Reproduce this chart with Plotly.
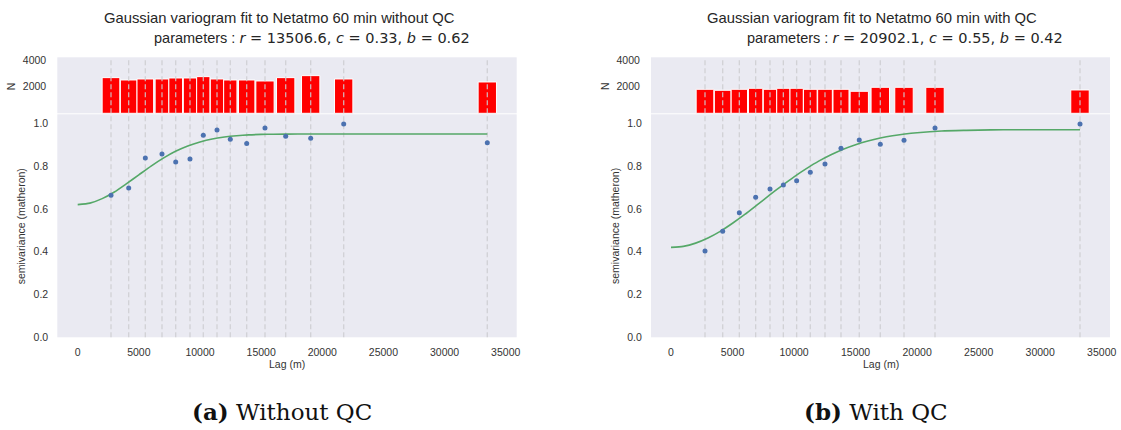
import plotly.graph_objects as go

W, H = 1121, 430

# ---------------- data ----------------
lags_a = [2723, 4170, 5530, 6893, 8014, 9183, 10271, 11391, 12479, 13820, 15316, 17009, 19053, 21752, 33495]
semi_a = [0.664, 0.698, 0.838, 0.857, 0.819, 0.833, 0.944, 0.969, 0.925, 0.905, 0.978, 0.939, 0.930, 0.997, 0.909]
count_a = [2675, 2500, 2575, 2575, 2650, 2650, 2750, 2575, 2500, 2500, 2425, 2675, 2825, 2575, 2350]
fit_x_a = [0, 1000, 2000, 3000, 4000, 5000, 6000, 7000, 8000, 9000, 10000, 11000, 12000,
           13000, 14000, 15000, 16000, 18000, 20000, 25000, 30000, 33495]
fit_y_a = [0.620, 0.627, 0.648, 0.679, 0.718, 0.759, 0.800, 0.837, 0.869, 0.894, 0.913, 0.927,
           0.936, 0.942, 0.946, 0.948, 0.949, 0.950, 0.950, 0.950, 0.950, 0.950]

lags_b = [2763, 4200, 5553, 6880, 8045, 9130, 10210, 11320, 12514, 13814, 15300, 17008, 18934, 21453, 33236]
semi_b = [0.403, 0.495, 0.582, 0.654, 0.693, 0.712, 0.732, 0.771, 0.810, 0.883, 0.922, 0.902, 0.921, 0.978, 0.997]
count_b = [1800, 1725, 1800, 1875, 1800, 1875, 1875, 1800, 1800, 1800, 1650, 1950, 1950, 1950, 1750]
fit_x_b = [0, 1000, 2000, 3000, 4000, 5000, 6000, 7000, 8000, 9000, 10000, 11000, 12000, 13000,
           14000, 15000, 16000, 17000, 18000, 19000, 20000, 22000, 24000, 26000, 28000, 30000, 33236]
fit_y_b = [0.420, 0.425, 0.440, 0.464, 0.495, 0.533, 0.574, 0.619, 0.664, 0.708, 0.750, 0.788,
           0.823, 0.853, 0.879, 0.900, 0.917, 0.931, 0.942, 0.950, 0.956, 0.964, 0.967, 0.969,
           0.970, 0.970, 0.970]

titles_1 = ["Gaussian variogram fit to Netatmo 60 min without QC",
            "Gaussian variogram fit to Netatmo 60 min with QC"]
params = [("13506.6", "0.33", "0.62"), ("20902.1", "0.55", "0.42")]
captions = [("(a)", "Without QC"), ("(b)", "With QC")]
x_ticks = [0, 5000, 10000, 15000, 20000, 25000, 30000, 35000]
y_ticks = [0.0, 0.2, 0.4, 0.6, 0.8, 1.0]
n_ticks = [2000, 4000]

# ---------------- style ----------------
BG = "#EAEAF2"
TXT = "#333333"
FONT = "Liberation Sans, Arial, sans-serif"
BLUE = "#4C72B0"
GREEN = "#55A868"
DASH = "rgba(205,205,208,0.85)"


def px_x(p):
    return p / W


def px_y(p):
    return (H - p) / H


panels = [
    dict(lags=lags_a, semi=semi_a, cnt=count_a, fx=fit_x_a, fy=fit_y_a,
         x0=57.3, x1=516.7, xr=[-1668, 35899]),
    dict(lags=lags_b, semi=semi_b, cnt=count_b, fx=fit_x_b, fy=fit_y_b,
         x0=651.0, x1=1110.0, xr=[-1625, 35674]),
]

main_top, main_bot = 114.3, 337.3
hist_top, hist_bot = 57.3, 113.3

fig = go.Figure()
layout = dict(
    width=W, height=H,
    margin=dict(l=0, r=0, t=0, b=0, autoexpand=False),
    paper_bgcolor="white", plot_bgcolor=BG,
    showlegend=False,
    font=dict(family=FONT, size=10.5, color=TXT),
)
shapes = []
annotations = []

for i, p in enumerate(panels):
    mx = "x" if i == 0 else "x3"
    my = "y" if i == 0 else "y3"
    hx = "x2" if i == 0 else "x4"
    hy = "y2" if i == 0 else "y4"
    mxn = "xaxis" if i == 0 else "xaxis3"
    myn = "yaxis" if i == 0 else "yaxis3"
    hxn = "xaxis2" if i == 0 else "xaxis4"
    hyn = "yaxis2" if i == 0 else "yaxis4"

    lags = p["lags"]
    widths = []
    for k, lg in enumerate(lags):
        gaps = []
        if k > 0:
            gaps.append(lg - lags[k - 1])
        if k < len(lags) - 1:
            gaps.append(lags[k + 1] - lg)
        widths.append(min(1500, min(gaps)))

    fig.add_trace(go.Bar(x=lags, y=p["cnt"], width=widths, xaxis=hx, yaxis=hy,
                         marker=dict(color="#FF0000", line=dict(color="white", width=1))))
    fig.add_trace(go.Scatter(x=p["fx"], y=p["fy"], mode="lines", xaxis=mx, yaxis=my,
                             line=dict(color=GREEN, width=1.6, shape="spline", smoothing=0.6)))
    fig.add_trace(go.Scatter(x=lags, y=p["semi"], mode="markers", xaxis=mx, yaxis=my,
                             marker=dict(color=BLUE, size=5)))

    dom_x = [px_x(p["x0"]), px_x(p["x1"])]
    layout[mxn] = dict(domain=dom_x, range=p["xr"], tickvals=x_ticks,
                       ticktext=[str(v) for v in x_ticks], showgrid=False, zeroline=False,
                       showline=False, ticks="outside", ticklen=5, tickcolor="rgba(0,0,0,0)",
                       anchor=my, tickfont=dict(size=10.5, color=TXT))
    layout[myn] = dict(domain=[px_y(main_bot), px_y(main_top)], range=[0, 1.042],
                       tickvals=y_ticks, ticktext=["%.1f" % v for v in y_ticks],
                       showgrid=False, zeroline=False, showline=False, ticks="outside",
                       ticklen=6, tickcolor="rgba(0,0,0,0)", anchor=mx,
                       tickfont=dict(size=10.5, color=TXT))
    layout[hxn] = dict(domain=dom_x, range=p["xr"], matches=mx, showticklabels=False,
                       showgrid=False, zeroline=False, showline=False, anchor=hy)
    layout[hyn] = dict(domain=[px_y(hist_bot), px_y(hist_top)], range=[0, 4200],
                       tickvals=n_ticks, ticktext=[str(v) for v in n_ticks],
                       showgrid=False, zeroline=False, showline=False, ticks="outside",
                       ticklen=8, tickcolor="rgba(0,0,0,0)", anchor=hx,
                       tickfont=dict(size=10.5, color=TXT))

    for lg in lags:
        shapes.append(dict(type="line", xref=mx, yref=my + " domain", x0=lg, x1=lg, y0=0, y1=1,
                           line=dict(color=DASH, width=1.3, dash="5px,3px"), layer="below"))
        shapes.append(dict(type="line", xref=hx, yref=hy + " domain", x0=lg, x1=lg, y0=0, y1=1,
                           line=dict(color=DASH, width=1.3, dash="5px,3px"), layer="above"))

    cx = (p["x0"] + p["x1"]) / 2
    # titles
    tcx = [279, 872][i]
    pcx = [311.5, 905][i]
    annotations.append(dict(text=titles_1[i], x=px_x(tcx), y=px_y(18), xref="paper", yref="paper",
                            showarrow=False, xanchor="center", yanchor="middle",
                            font=dict(family=FONT, size=14.8, color="#262626")))
    r, c, b = params[i]
    mfont = "font-family:'DejaVu Sans'"
    ptxt = ("parameters : <span style=\"%s\"><i>r</i> = %s, <i>c</i> = %s, <i>b</i> = %s</span>"
            % (mfont, r, c, b))
    annotations.append(dict(text=ptxt, x=px_x(pcx), y=px_y(38), xref="paper", yref="paper",
                            showarrow=False, xanchor="center", yanchor="middle",
                            font=dict(family=FONT, size=14.5, color="#262626")))
    # axis labels
    annotations.append(dict(text="Lag (m)", x=px_x(cx), y=px_y(364), xref="paper", yref="paper",
                            showarrow=False, xanchor="center", yanchor="middle",
                            font=dict(size=10.5, color=TXT)))
    annotations.append(dict(text="semivariance (matheron)", x=px_x(p["x0"] - 36), y=px_y(226),
                            xref="paper", yref="paper", textangle=-90, showarrow=False,
                            xanchor="center", yanchor="middle", font=dict(size=10.5, color=TXT)))
    annotations.append(dict(text="N", x=px_x(p["x0"] - 46), y=px_y(86), xref="paper", yref="paper",
                            textangle=-90, showarrow=False, xanchor="center", yanchor="middle",
                            font=dict(size=10.5, color=TXT)))
    # caption
    lab, txt = captions[i]
    capx = [282, 876][i]
    annotations.append(dict(text="<b>%s</b> %s" % (lab, txt), x=px_x(capx), y=px_y(411),
                            xref="paper", yref="paper", showarrow=False, xanchor="center",
                            yanchor="middle",
                            font=dict(family="DejaVu Serif, Liberation Serif, serif", size=23,
                                      color="#111111")))

layout["shapes"] = shapes
layout["annotations"] = annotations
fig.update_layout(**layout)
fig.write_html("out.html")
